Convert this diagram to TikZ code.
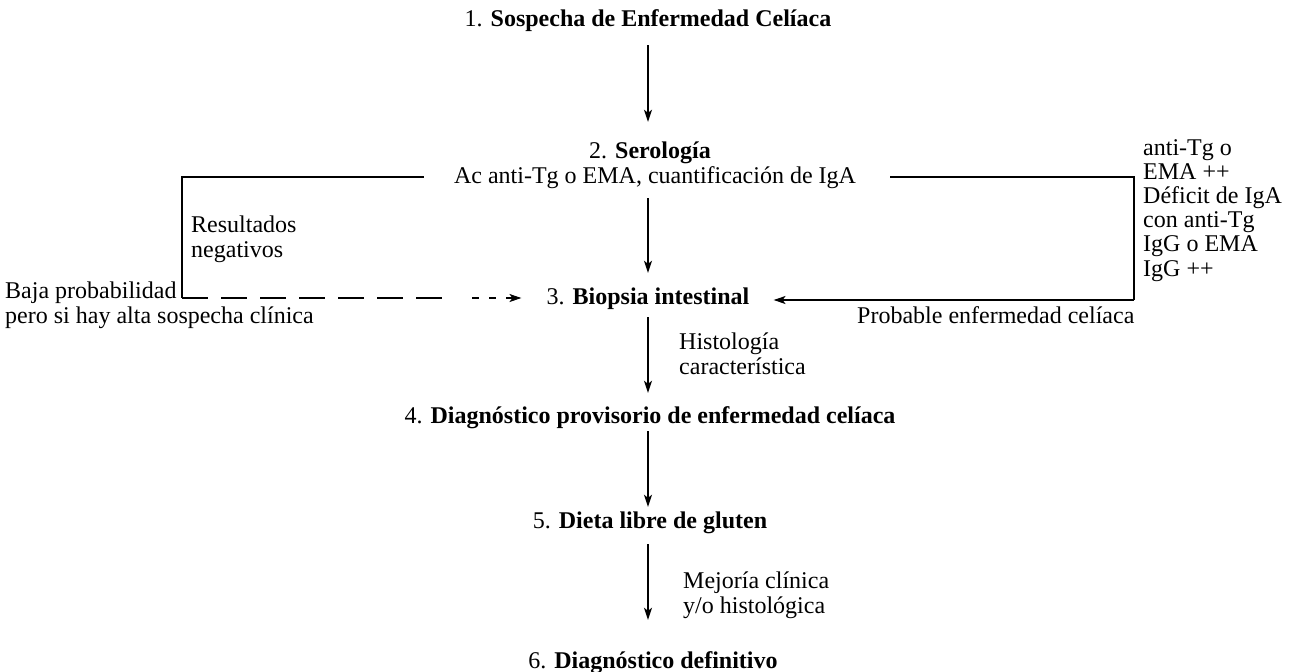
\documentclass[tikz,border=0pt]{standalone}
\usepackage{fontspec}
\setmainfont{Liberation Serif}
\usetikzlibrary{arrows.meta}
\begin{document}
\begin{tikzpicture}[x=1pt,y=-1pt,
  every node/.style={font=\fontsize{24}{25}\selectfont, inner sep=0pt},
  head/.style={anchor=base, text height=17pt, text depth=5pt},
  lbl/.style={anchor=base west, align=left},
  rblock/.style={anchor=base west, align=left, font=\fontsize{24}{24.1}\selectfont},
  arr/.style={line width=1.6pt, -{Stealth[length=12pt,width=8pt,inset=3pt]}},
  route/.style={line width=1.2pt},
  routearr/.style={line width=1.2pt, -{Stealth[length=12pt,width=8pt,inset=3pt]}},
  longdash/.style={line width=2.6pt, dash pattern=on 26pt off 13pt},
  shortdash/.style={line width=2.2pt, dash pattern=on 7pt off 10pt, -{Stealth[length=12pt,width=8pt,inset=3pt,line width=1pt]}}
]
\useasboundingbox (0,0) rectangle (1294,672);

% main steps
\node[head] (n1)  at (648,26)  {1. \textbf{Sospecha de Enfermedad Celíaca}};
\node[head] (n2a) at (650,158) {2. \textbf{Serología}};
\node[head] (n2b) at (655,183) {Ac anti-Tg o EMA, cuantificación de IgA};
\node[head] (n3)  at (648,304) {3. \textbf{Biopsia intestinal}};
\node[head] (n4)  at (650,423) {4. \textbf{Diagnóstico provisorio de enfermedad celíaca}};
\node[head] (n5)  at (650,528) {5. \textbf{Dieta libre de gluten}};
\node[head] (n6)  at (653,668) {6. \textbf{Diagnóstico definitivo}};

% labels (base = baseline of the last line)
\node[lbl] (res)  at (191,257) {Resultados\\negativos};
\node[lbl] (baja) at (5,323)   {Baja probabilidad\\pero si hay alta sospecha clínica};
\node[lbl] (hist) at (679,374) {Histología\\característica};
\node[lbl] (mej)  at (683,613) {Mejoría clínica\\y/o histológica};
\node[lbl] (prob) at (857,323) {Probable enfermedad celíaca};
\node[rblock] (pos) at (1143,276) {anti-Tg o\\EMA ++\\Déficit de IgA\\con anti-Tg\\IgG o EMA\\IgG ++};

% vertical arrows
\draw[arr, shorten <=14pt, shorten >=19pt] (n1.south) -- (n1.south |- n2a.north);
\draw[arr, shorten <=10pt, shorten >=14pt] (n3.north |- n2b.south) -- (n3.north);
\draw[arr, shorten <=8pt, shorten >=13pt] (n3.south) -- (n3.south |- n4.north);
\draw[arr, shorten <=3pt, shorten >=4pt] (n3.south |- n4.south) -- (n3.south |- n5.north);
\draw[arr, shorten <=11pt, shorten >=31pt] (n3.south |- n5.south) -- (n3.south |- n6.north);

% left route (negative results)
\coordinate (lx) at (182,0);
\coordinate (lb) at (n3.west -| lx);
\coordinate (lt) at (n2b.west -| lx);
\coordinate (dm) at (448,0);
\coordinate (dm2) at (472,0);
\draw[route, shorten <=30pt] (n2b.west) -- (lt) -- (lb);
\draw[longdash] (lb) -- (lb -| dm);
\draw[shortdash, shorten >=25pt] (lb -| dm2) -- (n3.west);

% right route (positive results)
\coordinate (rx) at (1134,0);
\coordinate (rt) at (n2b.east -| rx);
\coordinate (rb) at (1134,300);
\draw[route, shorten <=34pt] (n2b.east) -- (rt) -- (rb);
\draw[routearr, shorten >=24pt] (rb) -- (rb -| n3.east);
\draw[line width=2.2pt, shorten <=286pt, shorten >=72pt] (rb) -- (rb -| n3.east);
\end{tikzpicture}
\end{document}
